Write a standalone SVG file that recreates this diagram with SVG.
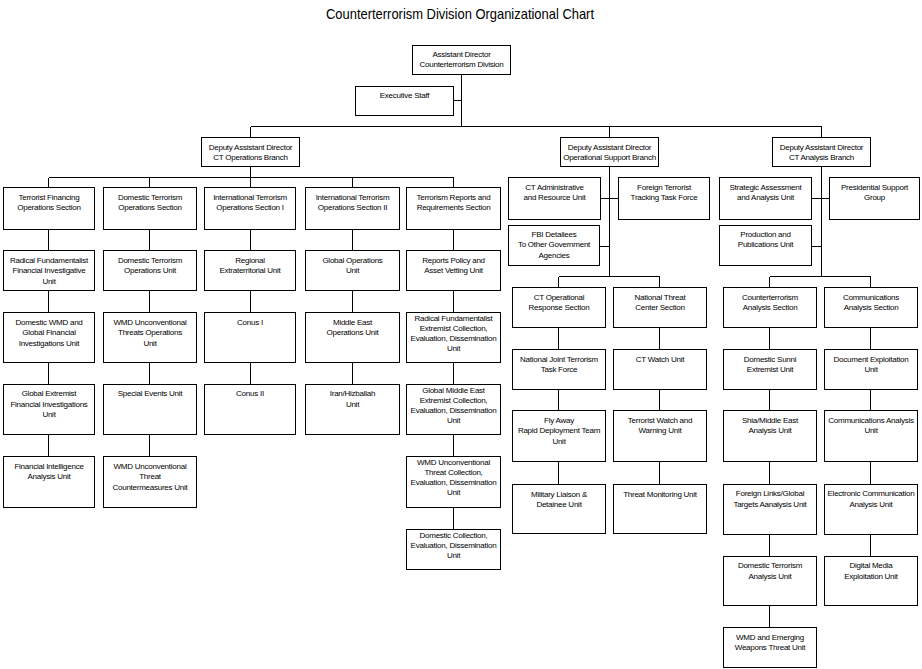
<svg xmlns="http://www.w3.org/2000/svg" width="922" height="669" viewBox="0 0 922 669">
<style>
rect{fill:#fff;stroke:#000;stroke-width:1;shape-rendering:crispEdges}
.c{fill:none;stroke:#000;stroke-width:1;shape-rendering:crispEdges}
text{font-family:"Liberation Sans",Arial,sans-serif;font-size:8px;letter-spacing:-0.25px;fill:#000;text-anchor:middle}
.title{font-size:15px;letter-spacing:0}
</style>
<rect x="0" y="0" width="922" height="669" style="stroke:none"/>
<text class="title" x="460" y="18.5" textLength="268" lengthAdjust="spacingAndGlyphs">Counterterrorism Division Organizational Chart</text>
<g id="connectors">
<path class="c" d="M461.5 74.5V126.5M453.5 100.5H461.5M250.5 126.5H821.5M250.5 126.5V137.5M609.5 126.5V137.5M821.5 126.5V137.5
M250.5 166.5V177.5M48.5 177.5H453.5M48.5 177.5V187.5M149.5 177.5V187.5M250.5 177.5V187.5M352.5 177.5V187.5M453.5 177.5V187.5
M48.5 229.5V250.5M48.5 290.5V312.5M48.5 362.5V384.5M48.5 434.5V456.5
M149.5 229.5V250.5M149.5 290.5V312.5M149.5 362.5V384.5M149.5 434.5V456.5
M250.5 229.5V250.5M250.5 290.5V312.5M250.5 362.5V384.5
M352.5 229.5V250.5M352.5 290.5V312.5M352.5 362.5V384.5
M453.5 229.5V250.5M453.5 290.5V312.5M453.5 362.5V384.5M453.5 434.5V456.5M453.5 507.5V529.5
M609.5 166.5V276.5M600.5 198.5H618.5M599.5 246.5H609.5M558.5 276.5H659.5M558.5 276.5V287.5M659.5 276.5V287.5
M558.5 327.5V349.5M558.5 389.5V410.5M558.5 461.5V484.5
M659.5 327.5V349.5M659.5 389.5V410.5M659.5 461.5V484.5
M821.5 166.5V276.5M811.5 198.5H829.5M811.5 246.5H821.5M769.5 276.5H870.5M769.5 276.5V287.5M870.5 276.5V287.5
M769.5 327.5V349.5M769.5 389.5V410.5M769.5 461.5V484.5M769.5 534.5V556.5M769.5 605.5V627.5
M870.5 327.5V349.5M870.5 389.5V410.5M870.5 461.5V484.5M870.5 534.5V556.5"/>
</g>
<g id="ad"><rect x="412.5" y="45.5" width="98" height="29"/><text x="461.5" y="56.5">Assistant Director</text><text x="461.5" y="67">Counterterrorism Division</text></g>
<g id="exec"><rect x="355.5" y="86.5" width="98" height="29"/><text x="404.5" y="97.5">Executive Staff</text></g>
<g id="dad-ops"><rect x="201.5" y="137.5" width="98" height="29"/><text x="250.5" y="149.5">Deputy Assistant Director</text><text x="250.5" y="160">CT Operations Branch</text></g>
<g id="dad-support"><rect x="560.5" y="137.5" width="98" height="29"/><text x="609.5" y="149.5">Deputy Assistant Director</text><text x="609.5" y="160">Operational Support Branch</text></g>
<g id="dad-analysis"><rect x="772.5" y="137.5" width="98" height="29"/><text x="821.5" y="149.5">Deputy Assistant Director</text><text x="821.5" y="160">CT Analysis Branch</text></g>

<g id="c1r1"><rect x="3.5" y="187.5" width="91" height="42"/><text x="49" y="199.5">Terrorist Financing</text><text x="49" y="210.2">Operations Section</text></g>
<g id="c1r2"><rect x="3.5" y="250.5" width="91" height="40"/><text x="49" y="262.5">Radical Fundamentalist</text><text x="49" y="273.2">Financial Investigative</text><text x="49" y="283.9">Unit</text></g>
<g id="c1r3"><rect x="3.5" y="312.5" width="91" height="50"/><text x="49" y="324.5">Domestic WMD and</text><text x="49" y="335.2">Global Financial</text><text x="49" y="345.9">Investigations Unit</text></g>
<g id="c1r4"><rect x="3.5" y="384.5" width="91" height="50"/><text x="49" y="396">Global Extremist</text><text x="49" y="406.7">Financial Investigations</text><text x="49" y="417.4">Unit</text></g>
<g id="c1r5"><rect x="3.5" y="456.5" width="91" height="51"/><text x="49" y="468.5">Financial Intelligence</text><text x="49" y="479.2">Analysis Unit</text></g>

<g id="c2r1"><rect x="103.5" y="187.5" width="93" height="42"/><text x="150" y="199.5">Domestic Terrorism</text><text x="150" y="210.2">Operations Section</text></g>
<g id="c2r2"><rect x="103.5" y="250.5" width="93" height="40"/><text x="150" y="262.5">Domestic Terrorism</text><text x="150" y="273.2">Operations Unit</text></g>
<g id="c2r3"><rect x="103.5" y="312.5" width="93" height="50"/><text x="150" y="324.5">WMD Unconventional</text><text x="150" y="335.2">Threats Operations</text><text x="150" y="345.9">Unit</text></g>
<g id="c2r4"><rect x="103.5" y="384.5" width="93" height="50"/><text x="150" y="396">Special Events Unit</text></g>
<g id="c2r5"><rect x="103.5" y="456.5" width="93" height="51"/><text x="150" y="468.5">WMD Unconventional</text><text x="150" y="479.2">Threat</text><text x="150" y="489.9">Countermeasures Unit</text></g>

<g id="c3r1"><rect x="204.5" y="187.5" width="91" height="42"/><text x="250" y="199.5">International Terrorism</text><text x="250" y="210.2">Operations Section I</text></g>
<g id="c3r2"><rect x="204.5" y="250.5" width="91" height="40"/><text x="250" y="262.5">Regional</text><text x="250" y="273.2">Extraterritorial Unit</text></g>
<g id="c3r3"><rect x="204.5" y="312.5" width="91" height="50"/><text x="250" y="324.5">Conus I</text></g>
<g id="c3r4"><rect x="204.5" y="384.5" width="91" height="50"/><text x="250" y="396">Conus II</text></g>

<g id="c4r1"><rect x="305.5" y="187.5" width="94" height="42"/><text x="352.5" y="199.5">International Terrorism</text><text x="352.5" y="210.2">Operations Section II</text></g>
<g id="c4r2"><rect x="305.5" y="250.5" width="94" height="40"/><text x="352.5" y="262.5">Global Operations</text><text x="352.5" y="273.2">Unit</text></g>
<g id="c4r3"><rect x="305.5" y="312.5" width="94" height="50"/><text x="352.5" y="324.5">Middle East</text><text x="352.5" y="335.2">Operations Unit</text></g>
<g id="c4r4"><rect x="305.5" y="384.5" width="94" height="50"/><text x="352.5" y="396">Iran/Hizballah</text><text x="352.5" y="406.7">Unit</text></g>

<g id="c5r1"><rect x="406.5" y="187.5" width="94" height="42"/><text x="453.5" y="199.5">Terrorism Reports and</text><text x="453.5" y="210.2">Requirements Section</text></g>
<g id="c5r2"><rect x="406.5" y="250.5" width="94" height="40"/><text x="453.5" y="262.5">Reports Policy and</text><text x="453.5" y="273.2">Asset Vetting Unit</text></g>
<g id="c5r3"><rect x="406.5" y="312.5" width="94" height="50"/><text x="453.5" y="320.5">Radical Fundamentalist</text><text x="453.5" y="330.5">Extremist Collection,</text><text x="453.5" y="340.5">Evaluation, Dissemination</text><text x="453.5" y="350.5">Unit</text></g>
<g id="c5r4"><rect x="406.5" y="384.5" width="94" height="50"/><text x="453.5" y="392.5">Global Middle East</text><text x="453.5" y="402.5">Extremist Collection,</text><text x="453.5" y="412.5">Evaluation, Dissemination</text><text x="453.5" y="422.5">Unit</text></g>
<g id="c5r5"><rect x="406.5" y="456.5" width="94" height="51"/><text x="453.5" y="464.5">WMD Unconventional</text><text x="453.5" y="474.5">Threat Collection,</text><text x="453.5" y="484.5">Evaluation, Dissemination</text><text x="453.5" y="494.5">Unit</text></g>
<g id="c5r6"><rect x="406.5" y="529.5" width="94" height="40"/><text x="453.5" y="537.5">Domestic Collection,</text><text x="453.5" y="547.5">Evaluation, Dissemination</text><text x="453.5" y="557.5">Unit</text></g>

<g id="ct-admin"><rect x="508.5" y="177.5" width="92" height="42"/><text x="554.5" y="189.5">CT Administrative</text><text x="554.5" y="200.2">and Resource Unit</text></g>
<g id="ftttf"><rect x="618.5" y="177.5" width="91" height="42"/><text x="664" y="189.5">Foreign Terrorist</text><text x="664" y="200.2">Tracking Task Force</text></g>
<g id="fbi-detailees"><rect x="508.5" y="225.5" width="91" height="40"/><text x="554" y="236.5">FBI Detailees</text><text x="554" y="247.2">To Other Government</text><text x="554" y="257.9">Agencies</text></g>

<g id="ctors"><rect x="512.5" y="287.5" width="93" height="40"/><text x="559" y="299.5">CT Operational</text><text x="559" y="310.2">Response Section</text></g>
<g id="njttf"><rect x="512.5" y="349.5" width="93" height="40"/><text x="559" y="361.5">National Joint Terrorism</text><text x="559" y="372.2">Task Force</text></g>
<g id="flyaway"><rect x="512.5" y="410.5" width="93" height="51"/><text x="559" y="422.5">Fly Away</text><text x="559" y="433.2">Rapid Deployment Team</text><text x="559" y="443.9">Unit</text></g>
<g id="military"><rect x="512.5" y="484.5" width="93" height="49"/><text x="559" y="496.5">Military Liaison &amp;</text><text x="559" y="507.2">Detainee Unit</text></g>

<g id="ntcs"><rect x="613.5" y="287.5" width="93" height="40"/><text x="660" y="299.5">National Threat</text><text x="660" y="310.2">Center Section</text></g>
<g id="ctwatch"><rect x="613.5" y="349.5" width="93" height="40"/><text x="660" y="361.5">CT Watch Unit</text></g>
<g id="twwu"><rect x="613.5" y="410.5" width="93" height="51"/><text x="660" y="422.5">Terrorist Watch and</text><text x="660" y="433.2">Warning Unit</text></g>
<g id="tmu"><rect x="613.5" y="484.5" width="93" height="49"/><text x="660" y="496.5">Threat Monitoring Unit</text></g>

<g id="saau"><rect x="719.5" y="177.5" width="92" height="42"/><text x="765.5" y="189.5">Strategic Assessment</text><text x="765.5" y="200.2">and Analysis Unit</text></g>
<g id="psg"><rect x="829.5" y="177.5" width="90" height="42"/><text x="874.5" y="189.5">Presidential Support</text><text x="874.5" y="200.2">Group</text></g>
<g id="ppu"><rect x="719.5" y="225.5" width="92" height="40"/><text x="765.5" y="236.5">Production and</text><text x="765.5" y="247.2">Publications Unit</text></g>

<g id="ctas"><rect x="723.5" y="287.5" width="93" height="40"/><text x="770" y="299.5">Counterterrorism</text><text x="770" y="310.2">Analysis Section</text></g>
<g id="dseu"><rect x="723.5" y="349.5" width="93" height="40"/><text x="770" y="361.5">Domestic Sunni</text><text x="770" y="372.2">Extremist Unit</text></g>
<g id="shia"><rect x="723.5" y="410.5" width="93" height="51"/><text x="770" y="422.5">Shia/Middle East</text><text x="770" y="433.2">Analysis Unit</text></g>
<g id="flgt"><rect x="723.5" y="484.5" width="93" height="50"/><text x="770" y="496">Foreign Links/Global</text><text x="770" y="506.7">Targets Aanalysis Unit</text></g>
<g id="dtau"><rect x="723.5" y="556.5" width="93" height="49"/><text x="770" y="568">Domestic Terrorism</text><text x="770" y="578.7">Analysis Unit</text></g>
<g id="wmdew"><rect x="723.5" y="627.5" width="93" height="40"/><text x="770" y="639.5">WMD and Emerging</text><text x="770" y="650.2">Weapons Threat Unit</text></g>

<g id="cas"><rect x="824.5" y="287.5" width="93" height="40"/><text x="871" y="299.5">Communications</text><text x="871" y="310.2">Analysis Section</text></g>
<g id="deu"><rect x="824.5" y="349.5" width="93" height="40"/><text x="871" y="361.5">Document Exploitation</text><text x="871" y="372.2">Unit</text></g>
<g id="cau"><rect x="824.5" y="410.5" width="93" height="51"/><text x="871" y="422.5">Communications Analysis</text><text x="871" y="433.2">Unit</text></g>
<g id="ecau"><rect x="824.5" y="484.5" width="93" height="50"/><text x="871" y="496">Electronic Communication</text><text x="871" y="506.7">Analysis Unit</text></g>
<g id="dmeu"><rect x="824.5" y="556.5" width="93" height="49"/><text x="871" y="568">Digital Media</text><text x="871" y="578.7">Exploitation Unit</text></g>
</svg>
